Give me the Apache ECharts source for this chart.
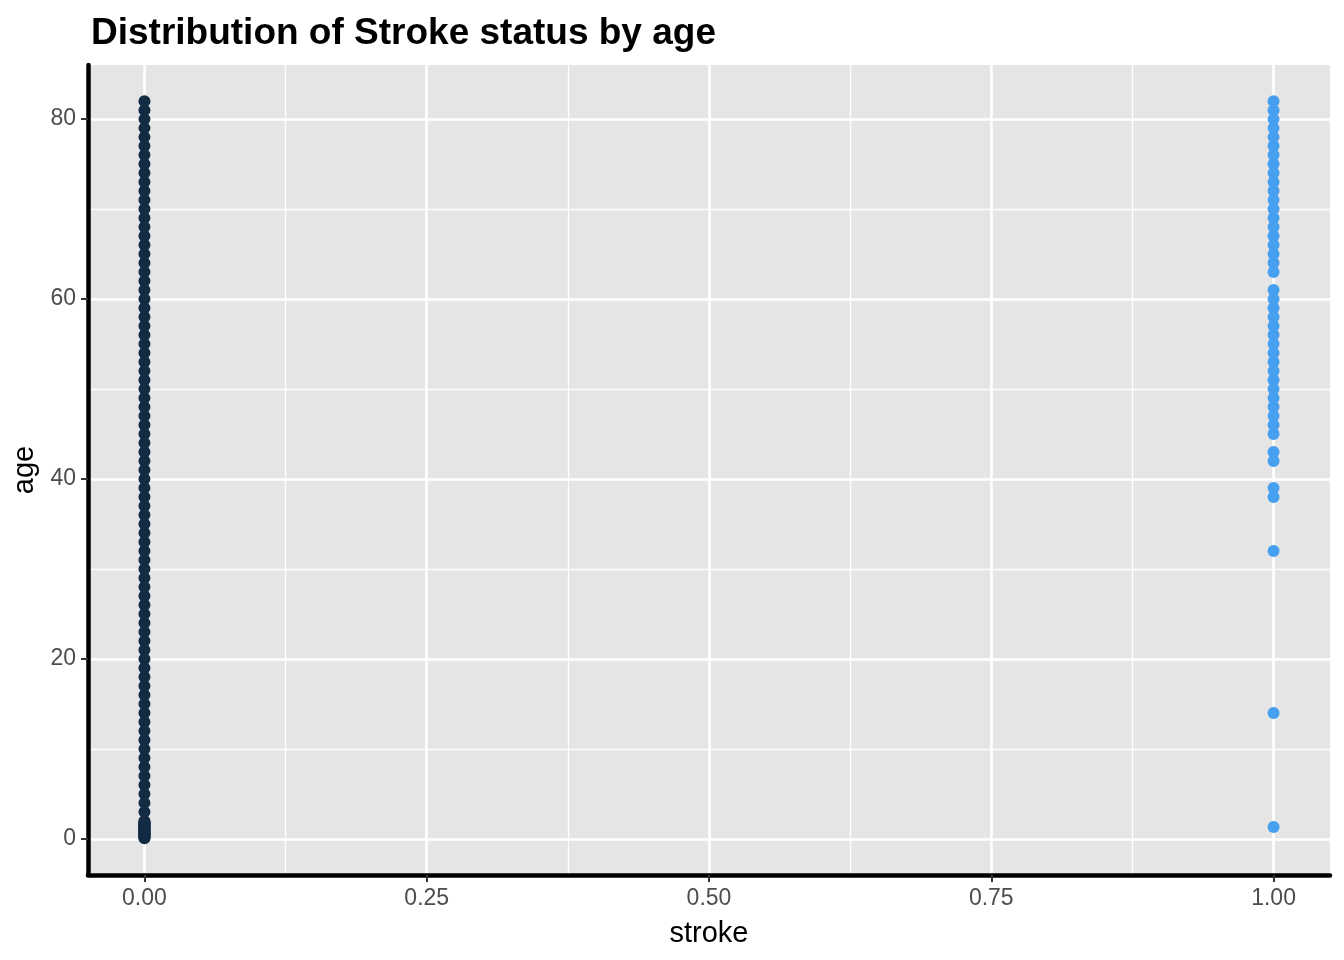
<!DOCTYPE html>
<html>
<head>
<meta charset="utf-8">
<script src="https://cdn.jsdelivr.net/npm/echarts@6/dist/echarts.min.js"></script>
<style>
  html, body { margin: 0; padding: 0; background: #ffffff; }
  #chart { width: 1344px; height: 960px; }
</style>
</head>
<body>
<div id="chart"></div>
<script>
// ---- data ----
const titleText = 'Distribution of Stroke status by age';
const xTicks = [0, 0.25, 0.5, 0.75, 1];
const yTicks = [0, 20, 40, 60, 80];
// ages observed for stroke = 0
const agesNoStroke = [
  0.08, 0.16, 0.24, 0.32, 0.4, 0.48, 0.56, 0.64, 0.72, 0.8, 0.88,
  1, 1.08, 1.16, 1.24, 1.32, 1.4, 1.48, 1.56, 1.64, 1.72, 1.8, 1.88,
  2, 3, 4, 5, 6, 7, 8, 9, 10, 11, 12, 13, 14, 15, 16, 17, 18, 19, 20,
  21, 22, 23, 24, 25, 26, 27, 28, 29, 30, 31, 32, 33, 34, 35, 36, 37, 38, 39, 40,
  41, 42, 43, 44, 45, 46, 47, 48, 49, 50, 51, 52, 53, 54, 55, 56, 57, 58, 59, 60,
  61, 62, 63, 64, 65, 66, 67, 68, 69, 70, 71, 72, 73, 74, 75, 76, 77, 78, 79, 80,
  81, 82
];
// ages observed for stroke = 1
const agesStroke = [
  1.32, 14, 32, 38, 39, 42, 43, 45, 46, 47, 48, 49, 50, 51, 52, 53, 54, 55, 56,
  57, 58, 59, 60, 61, 63, 64, 65, 66, 67, 68, 69, 70, 71, 72, 73, 74, 75, 76,
  77, 78, 79, 80, 81, 82
];

const noStrokePts = agesNoStroke.map(a => [0, a]);
const strokePts = agesStroke.map(a => [1, a]);

const FONT = '"Liberation Sans", Arial, Helvetica, sans-serif';
const chart = echarts.init(document.getElementById('chart'), null, { renderer: 'canvas' });

function near(v, arr) { return arr.some(t => Math.abs(t - v) < 1e-6); }

chart.setOption({
  animation: false,
  backgroundColor: '#ffffff',
  title: {
    text: titleText,
    left: 86,
    top: 10,
    textStyle: { fontFamily: FONT, fontSize: 37, fontWeight: 'bold', color: '#000000', lineHeight: 37 }
  },
  grid: {
    left: 88, right: 14, top: 65, bottom: 85,
    show: true, backgroundColor: '#E5E5E5', borderWidth: 0,
    containLabel: false
  },
  xAxis: {
    type: 'value',
    min: -0.05, max: 1.05,
    minInterval: 0.25, maxInterval: 0.25,
    name: 'stroke',
    nameLocation: 'middle',
    nameGap: 44,
    nameTextStyle: { fontFamily: FONT, fontSize: 29, color: '#000000' },
    axisLine: { show: true, onZero: false, lineStyle: { color: '#000000', width: 4.5 } },
    axisTick: { show: true, length: 7, customValues: xTicks, lineStyle: { color: '#333333', width: 2 } },
    axisLabel: {
      show: true, margin: 12, customValues: xTicks,
      fontFamily: FONT, fontSize: 23, color: '#4D4D4D',
      showMinLabel: true, showMaxLabel: true,
      formatter: v => near(v, xTicks) ? v.toFixed(2) : ''
    },
    splitLine: { show: true, lineStyle: { color: '#FFFFFF', width: 2.6 } },
    minorTick: { show: false, splitNumber: 2 },
    minorSplitLine: { show: true, lineStyle: { color: '#FFFFFF', width: 1.3 } }
  },
  yAxis: {
    type: 'value',
    min: -4.016, max: 86.016,
    minInterval: 20, maxInterval: 20,
    name: 'age',
    nameLocation: 'middle',
    nameGap: 39,
    nameRotate: 90,
    nameTextStyle: { fontFamily: FONT, fontSize: 29, color: '#000000' },
    axisLine: { show: true, onZero: false, lineStyle: { color: '#000000', width: 4.5 } },
    axisTick: { show: true, length: 7, customValues: yTicks, lineStyle: { color: '#333333', width: 2 } },
    axisLabel: {
      show: true, margin: 12, customValues: yTicks,
      fontFamily: FONT, fontSize: 23, color: '#4D4D4D',
      formatter: v => near(v, yTicks) ? String(Math.round(v)) : ''
    },
    splitLine: { show: true, lineStyle: { color: '#FFFFFF', width: 2.6 } },
    minorTick: { show: false, splitNumber: 2 },
    minorSplitLine: { show: true, lineStyle: { color: '#FFFFFF', width: 1.3 } }
  },
  series: [
    {
      name: 'no stroke',
      type: 'scatter',
      data: noStrokePts,
      symbol: 'circle',
      symbolSize: 12,
      itemStyle: { color: '#132B43', opacity: 1 },
      z: 3
    },
    {
      name: 'stroke',
      type: 'scatter',
      data: strokePts,
      symbol: 'circle',
      symbolSize: 12,
      itemStyle: { color: '#469FEF', opacity: 1 },
      z: 3
    }
  ]
});
</script>
</body>
</html>
